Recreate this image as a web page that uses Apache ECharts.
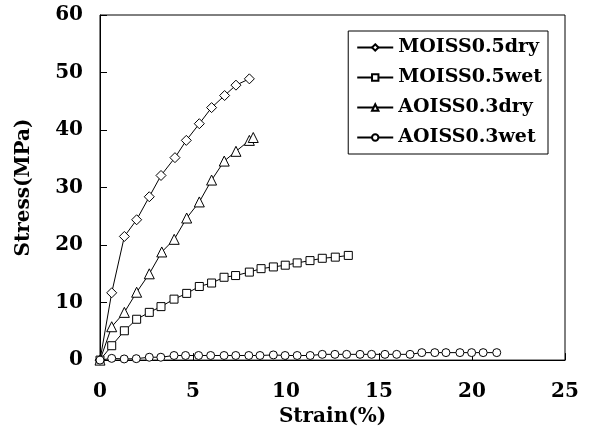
<!DOCTYPE html>
<html><head><meta charset="utf-8">
<script src="https://cdn.jsdelivr.net/npm/echarts@6/dist/echarts.min.js"></script>
<style>html,body{margin:0;padding:0;background:#fff}#c{width:590px;height:432px}</style>
</head><body><div id="c"></div>
<script>
var xTicks = [0, 5, 10, 15, 20, 25];
var yTicks = [0, 10, 20, 30, 40, 50, 60];

var moissDryX = [0, 0.63, 1.31, 1.97, 2.65, 3.28, 4.03, 4.64, 5.34, 6.0, 6.7, 7.31, 8.03];
var moissDryY = [0, 11.7, 21.5, 24.4, 28.4, 32.1, 35.2, 38.2, 41.1, 43.9, 46.0, 47.8, 48.9];

var moissWetX = [0, 0.63, 1.31, 1.97, 2.65, 3.28, 3.98, 4.66, 5.34, 6.0, 6.67, 7.29, 8.03, 8.66, 9.32, 9.96, 10.6, 11.29, 11.95, 12.65, 13.35];
var moissWetY = [0, 2.5, 5.1, 7.1, 8.3, 9.3, 10.6, 11.6, 12.8, 13.4, 14.4, 14.7, 15.3, 15.9, 16.2, 16.5, 16.9, 17.3, 17.7, 17.9, 18.2];

var aoissDryX = [0, 0.63, 1.31, 1.97, 2.65, 3.32, 3.99, 4.66, 5.34, 6.0, 6.68, 7.31, 8.03, 8.24];
var aoissDryY = [0, 5.8, 8.3, 11.8, 15.0, 18.8, 21.0, 24.7, 27.5, 31.3, 34.6, 36.3, 38.2, 38.7];

var aoissWetX = [0, 0.63, 1.3, 1.95, 2.65, 3.27, 3.98, 4.6, 5.3, 5.95, 6.67, 7.3, 8.0, 8.6, 9.32, 9.95, 10.6, 11.3, 11.95, 12.63, 13.26, 13.98, 14.6, 15.32, 15.95, 16.67, 17.3, 18.0, 18.6, 19.35, 19.98, 20.6, 21.33];
var aoissWetY = [0, 0.3, 0.2, 0.25, 0.5, 0.5, 0.8, 0.8, 0.8, 0.8, 0.8, 0.8, 0.8, 0.8, 0.9, 0.8, 0.8, 0.8, 1.0, 1.0, 1.0, 1.0, 1.0, 1.0, 1.0, 1.0, 1.3, 1.3, 1.3, 1.3, 1.3, 1.3, 1.3];

var seriesNames = ['MOISS0.5dry', 'MOISS0.5wet', 'AOISS0.3dry', 'AOISS0.3wet'];

function pairs(xs, ys) { return xs.map(function (x, i) { return [x, ys[i]]; }); }

var FONT = '"DejaVu Serif", "Liberation Serif", serif';

function mk(name, xs, ys, sym, size) {
  return {
    name: name, type: 'line', data: pairs(xs, ys),
    symbol: sym, symbolSize: size, showAllSymbol: true,
    lineStyle: { color: '#000', width: 1 },
    itemStyle: { color: '#fff', borderColor: '#000', borderWidth: 1 },
    emphasis: { disabled: true }, animation: false
  };
}

var chart = echarts.init(document.getElementById('c'));
chart.setOption({
  animation: false,
  grid: { left: 100, right: 25, top: 15, bottom: 69, show: true, borderColor: '#000', borderWidth: 1 },
  legend: {
    right: 42, top: 31, orient: 'vertical',
    data: seriesNames,
    backgroundColor: '#fff', borderColor: '#000', borderWidth: 1,
    padding: [7, 6, 7, 8], itemGap: 11, itemWidth: 36, itemHeight: 8,
    textStyle: { fontFamily: FONT, fontWeight: 'bold', fontSize: 19, color: '#000' }
  },
  xAxis: {
    type: 'value', min: 0, max: 25, interval: 5,
    name: 'Strain(%)', nameLocation: 'middle', nameGap: 46,
    nameTextStyle: { fontFamily: FONT, fontWeight: 'bold', fontSize: 20, color: '#000' },
    axisLine: { lineStyle: { color: '#000', width: 1 } },
    axisTick: { inside: true, length: 7, lineStyle: { color: '#000' } },
    axisLabel: { margin: 22, fontFamily: FONT, fontWeight: 'bold', fontSize: 20, color: '#000',
      formatter: function (v) { return xTicks.indexOf(v) >= 0 ? String(v) : ''; } },
    splitLine: { show: false }
  },
  yAxis: {
    type: 'value', min: 0, max: 60, interval: 10,
    name: 'Stress(MPa)', nameLocation: 'middle', nameGap: 66,
    nameTextStyle: { fontFamily: FONT, fontWeight: 'bold', fontSize: 20, color: '#000' },
    axisLine: { lineStyle: { color: '#000', width: 1 } },
    axisTick: { inside: true, length: 7, lineStyle: { color: '#000' } },
    axisLabel: { margin: 17, fontFamily: FONT, fontWeight: 'bold', fontSize: 20, color: '#000',
      formatter: function (v) { return yTicks.indexOf(v) >= 0 ? String(v) : ''; } },
    splitLine: { show: false }
  },
  series: [
    mk(seriesNames[0], moissDryX, moissDryY, 'diamond', 10),
    mk(seriesNames[1], moissWetX, moissWetY, 'rect', 8),
    mk(seriesNames[2], aoissDryX, aoissDryY, 'triangle', 10),
    mk(seriesNames[3], aoissWetX, aoissWetY, 'circle', 8)
  ]
});
</script>
</body></html>
